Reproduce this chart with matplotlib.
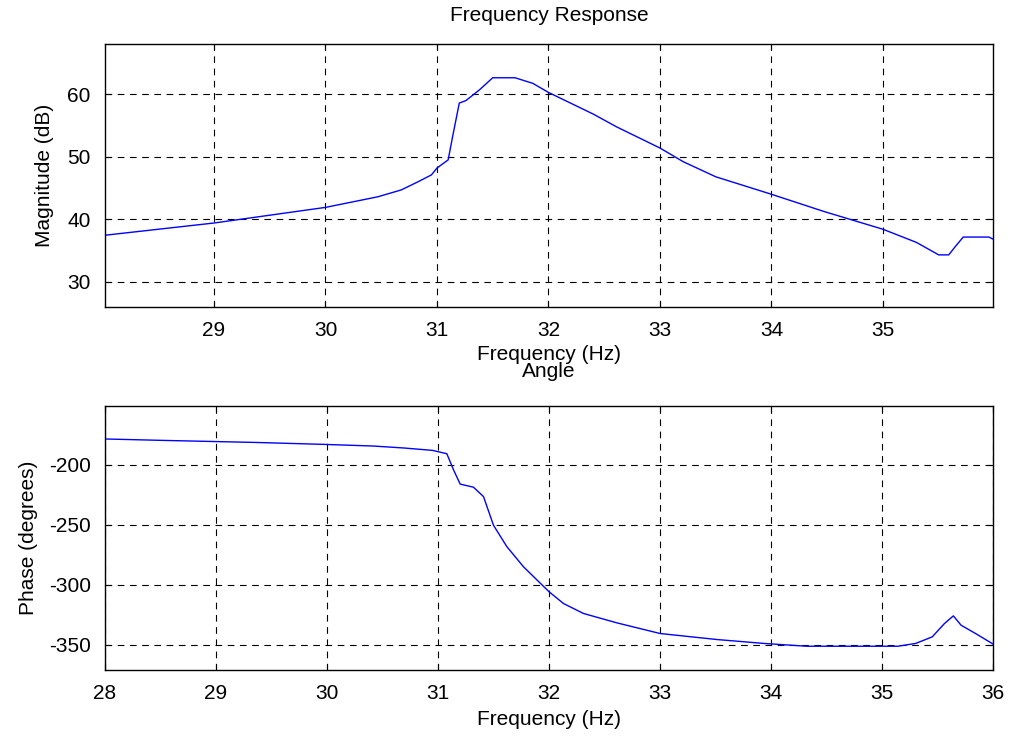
import numpy as np
import matplotlib as mpl

mpl.use('Agg')
import matplotlib.pyplot as plt

plt.rcParams['font.family'] = ['Liberation Sans', 'DejaVu Sans']
plt.rcParams['axes.unicode_minus'] = False

# Magnitude response (dB) vs frequency (Hz)
mag_freq = [28.0, 29.0, 30.0, 30.47, 30.68, 30.83, 30.95, 31.0, 31.1, 31.14,
            31.2, 31.26, 31.38, 31.5, 31.7, 31.86, 32.0, 32.4, 32.61, 33.0,
            33.21, 33.5, 34.0, 34.47, 35.0, 35.3, 35.5, 35.59, 35.65, 35.72,
            35.95, 35.99]
mag_db = [37.4, 39.4, 41.9, 43.6, 44.7, 46.0, 47.1, 48.2, 49.5, 53.2,
          58.6, 59.0, 60.7, 62.65, 62.65, 61.75, 60.3, 56.85, 54.8, 51.4,
          49.2, 46.8, 44.0, 41.25, 38.4, 36.3, 34.3, 34.3, 35.65, 37.15,
          37.15, 36.8]

# Phase response (degrees) vs frequency (Hz)
ph_freq = [28.0, 28.53, 29.36, 29.97, 30.42, 30.69, 30.95, 31.08, 31.14, 31.2,
           31.32, 31.41, 31.5, 31.62, 31.77, 32.0, 32.13, 32.31, 32.61, 33.0,
           33.51, 33.94, 34.32, 35.14, 35.3, 35.45, 35.56, 35.64, 35.71, 35.84,
           36.0]
ph_deg = [-178.5, -179.7, -181.4, -183.0, -184.4, -186.0, -188.0, -190.8, -204.2, -216.1,
          -218.7, -226.5, -250.4, -268.2, -285.0, -305.8, -315.6, -323.9, -331.7, -340.6,
          -345.6, -348.9, -351.2, -351.2, -348.9, -343.4, -332.3, -325.9, -333.7, -340.6,
          -349.5]

mag_ticks = [30, 40, 50, 60]
mag_xticks = [29, 30, 31, 32, 33, 34, 35]
ph_ticks = [-350, -300, -250, -200]
ph_xticks = [28, 29, 30, 31, 32, 33, 34, 35, 36]

fs = 15
fig = plt.figure(figsize=(10.11, 7.40), dpi=100)
ax1 = fig.add_axes([0.1036, 0.5855, 0.8789, 0.3546])
ax2 = fig.add_axes([0.1036, 0.0946, 0.8789, 0.3568])


def style(ax):
    ax.grid(True, color='black', linestyle=(0, (6, 5)), linewidth=0.8)
    ax.tick_params(direction='in', length=4, top=True, right=True,
                   labelsize=fs, width=0.8, pad=10)
    for s in ax.spines.values():
        s.set_linewidth(1.0)


ax1.plot(mag_freq, mag_db, color='#0000ff', linewidth=1.0)
ax1.set_xlim(28.02, 35.99)
ax1.set_ylim(26, 68)
ax1.set_xticks(mag_xticks)
ax1.set_yticks(mag_ticks)
ax1.set_title('Frequency Response', fontsize=fs, pad=17)
ax1.set_xlabel('Frequency (Hz)', fontsize=fs, labelpad=4)
ax1.set_ylabel('Magnitude (dB)', fontsize=fs, labelpad=10)
style(ax1)

ax2.plot(ph_freq, ph_deg, color='#0000ff', linewidth=1.0)
ax2.set_xlim(28, 36)
ax2.set_ylim(-371, -151)
ax2.set_xticks(ph_xticks)
ax2.set_yticks(ph_ticks)
ax2.set_title('Angle', fontsize=fs, pad=21)
ax2.set_xlabel('Frequency (Hz)', fontsize=fs, labelpad=5)
ax2.set_ylabel('Phase (degrees)', fontsize=fs, labelpad=8)
style(ax2)

plt.savefig('out.png', dpi=100)
